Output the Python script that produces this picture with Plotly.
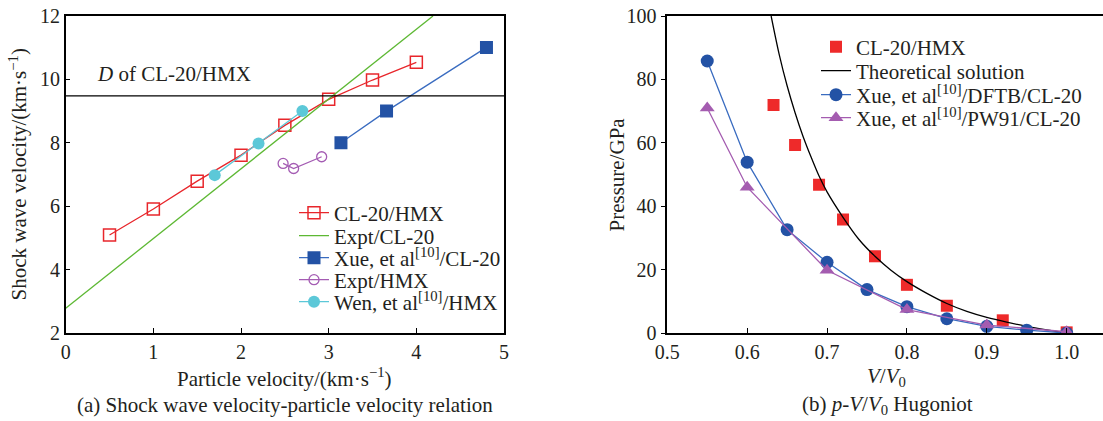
import plotly.graph_objects as go

# ---------------- Panel (a) data ----------------
up_cl20hmx = [0.5, 1.0, 1.5, 2.0, 2.5, 3.0, 3.5, 4.0]
us_cl20hmx = [5.09, 5.91, 6.79, 7.61, 8.55, 9.37, 9.98, 10.54]

up_expt_cl20 = [0.0, 4.19]
us_expt_cl20 = [2.78, 12.0]

up_xue_cl20 = [3.14, 3.66, 4.80]
us_xue_cl20 = [8.0, 9.0, 11.01]

up_expt_hmx = [2.48, 2.60, 2.92]
us_expt_hmx = [7.35, 7.19, 7.56]

up_wen_hmx = [1.70, 2.20, 2.70]
us_wen_hmx = [6.98, 7.98, 9.0]

d_cl20hmx = 9.48

# ---------------- Panel (b) data ----------------
v_cl20hmx = [0.633, 0.660, 0.690, 0.720, 0.760, 0.800, 0.850, 0.920, 1.000]
p_cl20hmx = [71.9, 59.3, 46.8, 35.8, 24.2, 15.2, 8.6, 4.0, 0.2]

v_theory = [0.630, 0.640, 0.650, 0.660, 0.670, 0.680, 0.690, 0.700, 0.720, 0.740,
            0.760, 0.780, 0.800, 0.825, 0.850, 0.875, 0.900, 0.925, 0.950, 0.975, 1.000]
p_theory = [100.0, 88.0, 78.0, 69.5, 62.0, 55.5, 49.5, 44.5, 36.5, 29.5,
            24.2, 19.8, 16.2, 12.5, 9.3, 6.8, 4.9, 3.4, 2.1, 1.0, 0.0]

v_dftb = [0.55, 0.60, 0.65, 0.70, 0.75, 0.80, 0.85, 0.90, 0.95, 1.00]
p_dftb = [85.8, 53.9, 32.6, 22.3, 13.7, 8.3, 4.5, 2.1, 0.9, 0.0]

v_pw91 = [0.55, 0.60, 0.70, 0.80, 0.90, 1.00]
p_pw91 = [71.0, 46.0, 19.8, 7.4, 2.5, 0.4]

FONT = "Liberation Serif"
TXT = "#231f20"
W, H = 1103, 421
PT, PB = 16, 333  # plot area top/bottom in px
LFS = 21          # legend / title font size
TFS = 20          # tick font size


def py2paper(py):
    return (PB - py) / (PB - PT)


fig = go.Figure()

# ---- panel (a) ----
fig.add_trace(go.Scatter(
    x=up_cl20hmx, y=us_cl20hmx, mode="lines+markers", name="CL-20/HMX",
    line=dict(color="#e8262b", width=1.3),
    marker=dict(symbol="square-open", size=12, color="#e8262b", line=dict(width=1.5)),
    xaxis="x", yaxis="y", legend="legend"))
fig.add_trace(go.Scatter(
    x=up_expt_cl20, y=us_expt_cl20, mode="lines", name="Expt/CL-20",
    line=dict(color="#5db833", width=1.3), xaxis="x", yaxis="y", legend="legend2"))
fig.add_trace(go.Scatter(
    x=up_xue_cl20, y=us_xue_cl20, mode="lines+markers",
    name="Xue, et al<sup>[10]</sup>/CL-20",
    line=dict(color="#3a6cc0", width=1.3),
    marker=dict(symbol="square", size=13, color="#2352a5"),
    xaxis="x", yaxis="y", legend="legend3"))
fig.add_trace(go.Scatter(
    x=up_expt_hmx, y=us_expt_hmx, mode="lines+markers", name="Expt/HMX",
    line=dict(color="#a45cb3", width=1.3),
    marker=dict(symbol="circle-open", size=10, color="#a45cb3", line=dict(width=1.3)),
    xaxis="x", yaxis="y", legend="legend4"))
fig.add_trace(go.Scatter(
    x=up_wen_hmx, y=us_wen_hmx, mode="lines+markers",
    name="Wen, et al<sup>[10]</sup>/HMX",
    line=dict(color="#5cc8d8", width=1.3),
    marker=dict(symbol="circle", size=12, color="#5cc8d8"),
    xaxis="x", yaxis="y", legend="legend5"))

# ---- panel (b) ----
fig.add_trace(go.Scatter(
    x=v_cl20hmx, y=p_cl20hmx, mode="markers", name="CL-20/HMX",
    marker=dict(symbol="square", size=12, color="#ee2a2a"),
    xaxis="x2", yaxis="y2", legend="legend6"))
fig.add_trace(go.Scatter(
    x=v_theory, y=p_theory, mode="lines", name="Theoretical solution",
    line=dict(color="black", width=1.3, shape="spline", smoothing=0.8),
    xaxis="x2", yaxis="y2", legend="legend7"))
fig.add_trace(go.Scatter(
    x=v_dftb, y=p_dftb, mode="lines+markers",
    name="Xue, et al<sup>[10]</sup>/DFTB/CL-20",
    line=dict(color="#3a6cc0", width=1.3),
    marker=dict(symbol="circle", size=13, color="#2352a5"),
    xaxis="x2", yaxis="y2", legend="legend8"))
fig.add_trace(go.Scatter(
    x=v_pw91, y=p_pw91, mode="lines+markers",
    name="Xue, et al<sup>[10]</sup>/PW91/CL-20",
    line=dict(color="#a45cb0", width=1.3),
    marker=dict(symbol="triangle-up", size=13, color="#a45cb0"),
    xaxis="x2", yaxis="y2", legend="legend9"))

axis_common = dict(
    showline=True, linecolor="black", linewidth=1.5, showgrid=False, zeroline=False,
    tickfont=dict(family=FONT, size=TFS, color=TXT), ticklen=5, tickcolor="black",
    automargin=False,
)


def leg(xpx, ypx):
    return dict(x=xpx / W, y=py2paper(ypx), xanchor="left", yanchor="middle",
                bgcolor="rgba(0,0,0,0)", borderwidth=0,
                font=dict(family=FONT, size=LFS, color=TXT),
                itemsizing="trace", itemwidth=30)


left_leg_y = [213, 236, 258, 280, 302]
right_leg_y = [47, 71, 95, 118]
legends = {}
for i, yy in enumerate(left_leg_y):
    key = "legend" if i == 0 else f"legend{i + 1}"
    legends[key] = leg(294, yy)
for j, yy in enumerate(right_leg_y):
    legends[f"legend{j + 6}"] = leg(816, yy)

fig.update_layout(
    width=W, height=H,
    margin=dict(l=0, r=0, t=PT, b=H - PB, autoexpand=False),
    paper_bgcolor="white", plot_bgcolor="white",
    font=dict(family=FONT, size=LFS, color=TXT),
    xaxis=dict(domain=[65.7 / W, 504 / W], range=[0, 5], dtick=1, tick0=0,
               ticks="inside", mirror=True, anchor="y", **axis_common),
    yaxis=dict(domain=[0, 1], range=[2, 12], dtick=2, tick0=2,
               ticks="inside", mirror=True, anchor="x", **axis_common),
    xaxis2=dict(domain=[667.3 / W, 1.0], range=[0.5, 1.0455],
                tickvals=[0.5, 0.6, 0.7, 0.8, 0.9, 1.0],
                ticktext=["0.5", "0.6", "0.7", "0.8", "0.9", "1.0"],
                ticks="inside", mirror=True, anchor="y2", **axis_common),
    yaxis2=dict(domain=[0, 1], range=[0, 100], dtick=20, tick0=0,
                ticks="outside", mirror=False, anchor="x2", **axis_common),
    showlegend=True,
    **legends,
)

# horizontal D line
fig.add_shape(type="line", xref="x domain", yref="y", x0=0, x1=1,
              y0=d_cl20hmx, y1=d_cl20hmx, line=dict(color="black", width=1.3))

ann = [
    dict(x=0.33, y=10.16, xref="x", yref="y", xanchor="left", yanchor="middle",
         text="<i>D</i> of CL-20/HMX", showarrow=False,
         font=dict(family=FONT, size=LFS, color=TXT)),
    dict(x=284.5 / W, y=py2paper(377), xref="paper", yref="paper",
         xanchor="center", yanchor="middle",
         text="Particle velocity/(km·s<sup>−1</sup>)", showarrow=False,
         font=dict(family=FONT, size=LFS, color=TXT)),
    dict(x=284.5 / W, y=py2paper(405), xref="paper", yref="paper",
         xanchor="center", yanchor="middle",
         text="(a) Shock wave velocity-particle velocity relation", showarrow=False,
         font=dict(family=FONT, size=LFS, color=TXT)),
    dict(x=18 / W, y=0.5, xref="paper", yref="paper", textangle=-90,
         xanchor="center", yanchor="middle",
         text="Shock wave velocity/(km·s<sup>−1</sup>)", showarrow=False,
         font=dict(family=FONT, size=LFS, color=TXT)),
    dict(x=886 / W, y=py2paper(377), xref="paper", yref="paper",
         xanchor="center", yanchor="middle",
         text="<i>V</i>/<i>V</i><sub>0</sub>", showarrow=False,
         font=dict(family=FONT, size=LFS, color=TXT)),
    dict(x=887 / W, y=py2paper(405), xref="paper", yref="paper",
         xanchor="center", yanchor="middle",
         text="(b) <i>p</i>-<i>V</i>/<i>V</i><sub>0</sub> Hugoniot", showarrow=False,
         font=dict(family=FONT, size=LFS, color=TXT)),
    dict(x=616 / W, y=0.5, xref="paper", yref="paper", textangle=-90,
         xanchor="center", yanchor="middle",
         text="Pressure/GPa", showarrow=False,
         font=dict(family=FONT, size=LFS, color=TXT)),
]
fig.update_layout(annotations=ann)

fig.write_html("out.html", config={"displayModeBar": False},
               post_script="document.body.style.margin='0';document.body.style.padding='0';")
